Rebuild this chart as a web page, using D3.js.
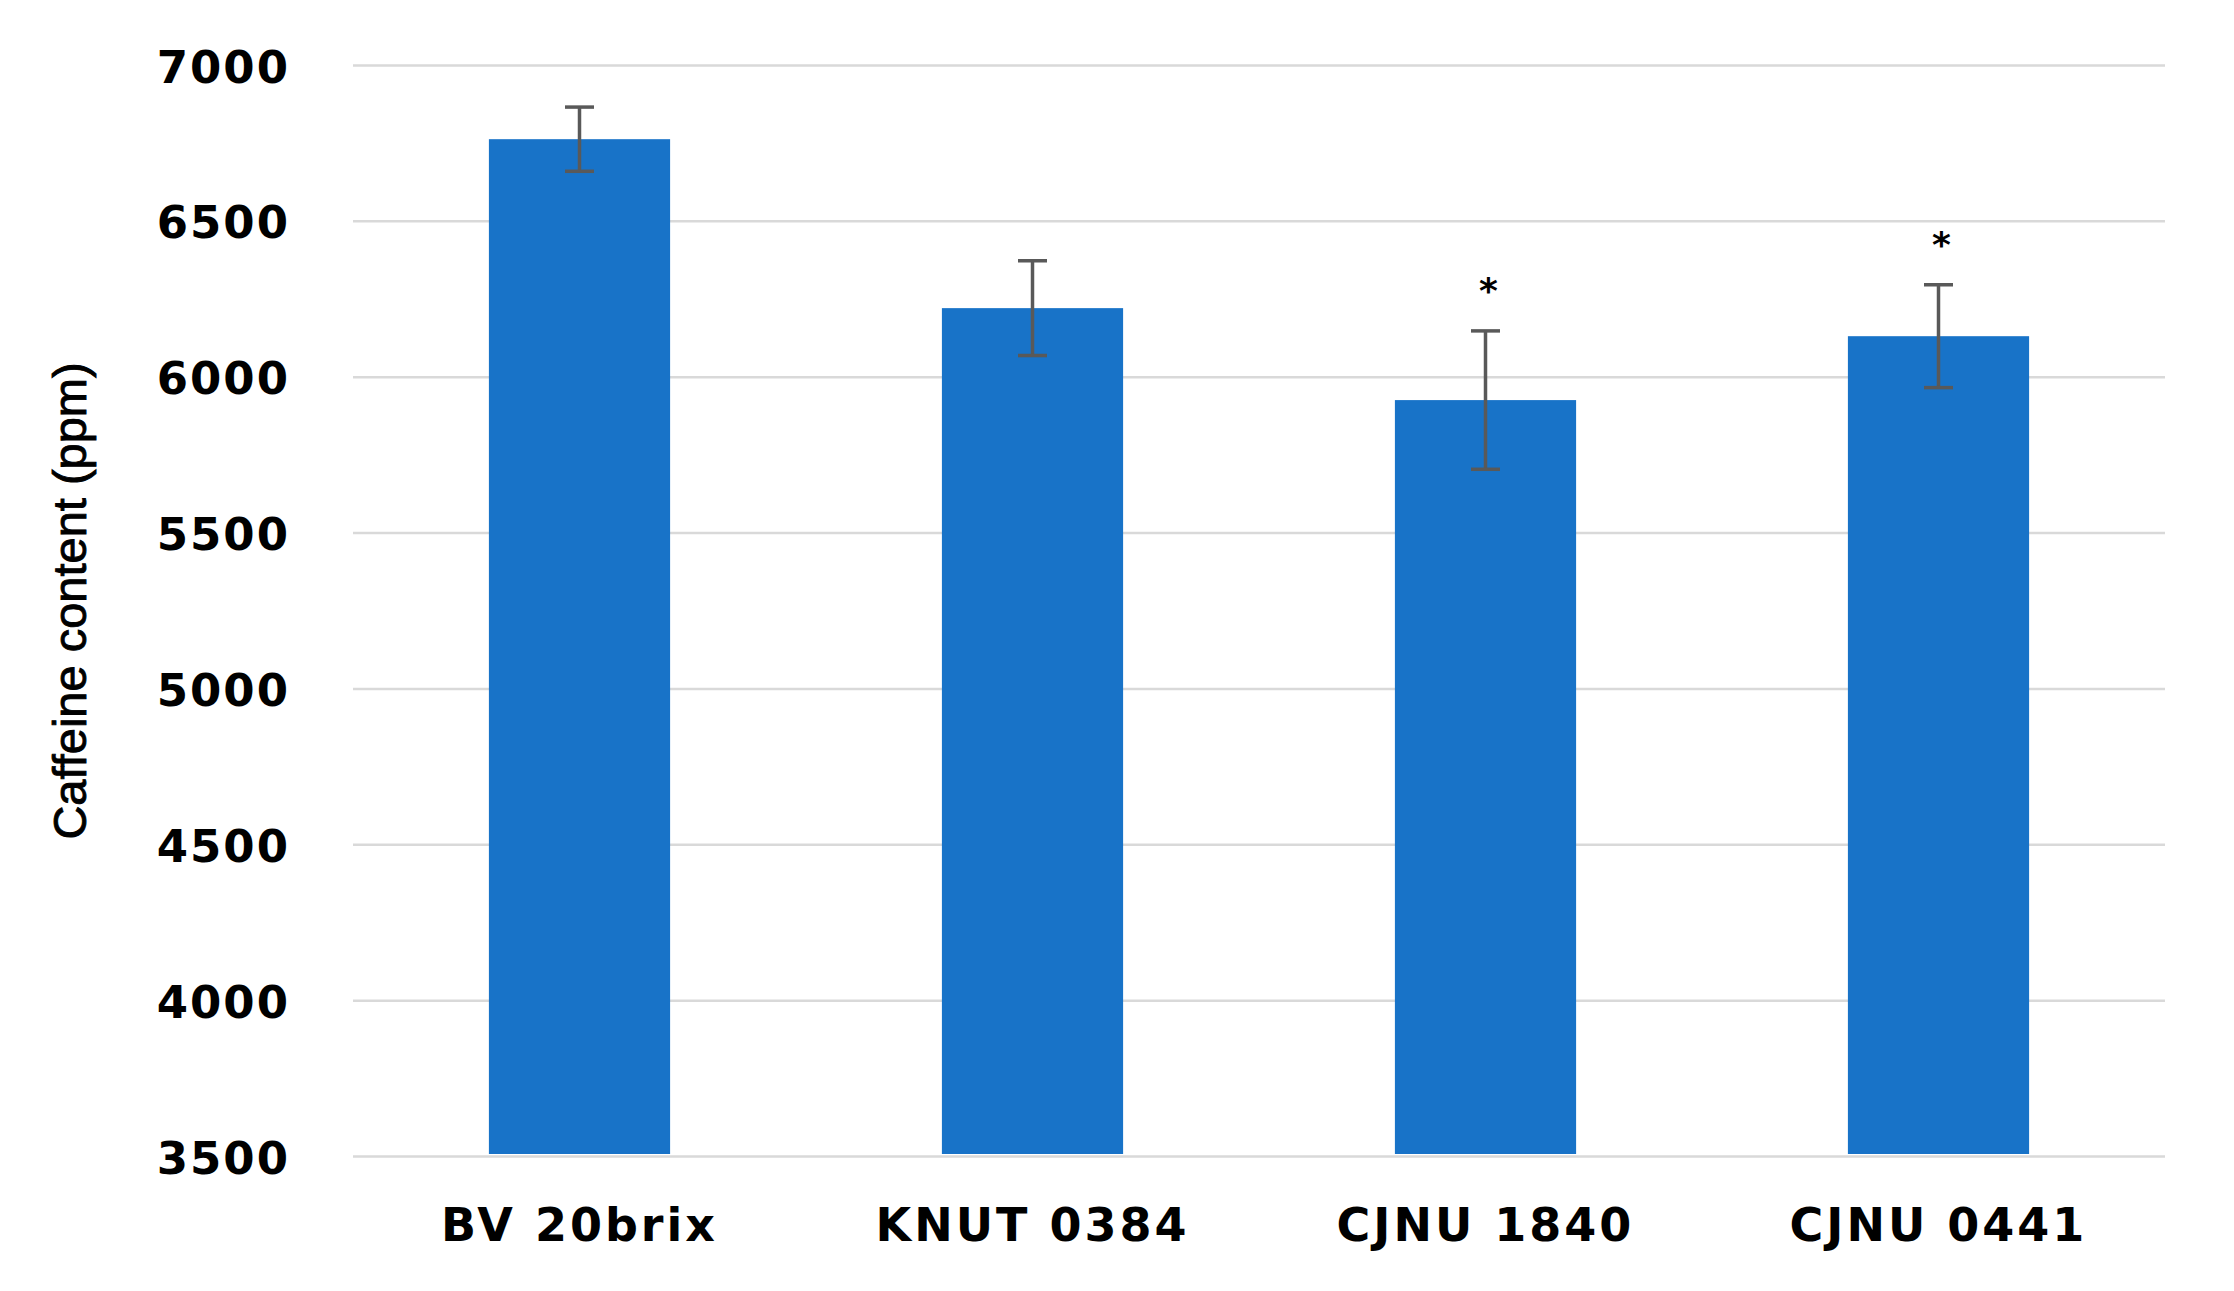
<!DOCTYPE html>
<html>
<head>
<meta charset="utf-8">
<script src="https://cdn.jsdelivr.net/npm/d3@7"></script>
<style>
  html, body { margin: 0; padding: 0; background: #ffffff; }
  svg { display: block; }
</style>
</head>
<body>
<script>
// ---- data ----
const categories = ["BV 20brix", "KNUT 0384", "CJNU 1840", "CJNU 0441"];
const caffeine = [6762, 6220, 5925, 6130];
const errors = [103, 152, 222, 165];
const significance = ["", "", "*", "*"];
const yTicks = [3500, 4000, 4500, 5000, 5500, 6000, 6500, 7000];
const yLabel = "Caffeine content (ppm)";

// ---- layout ----
const W = 2234, H = 1291;
const margin = { left: 353, right: W - 2165, top: 65, bottom: H - 1156 };
const pw = W - margin.left - margin.right;
const ph = H - margin.top - margin.bottom;

const svg = d3.select("body").append("svg").attr("width", W).attr("height", H);
const g = svg.append("g").attr("transform", `translate(${margin.left},${margin.top})`);

const x = d3.scaleBand().domain(categories).range([0, pw]).paddingInner(0.6).paddingOuter(0.3);
const y = d3.scaleLinear().domain([3500, 7000]).range([ph, 0]);

// y axis with gridlines
const yAxis = g.append("g")
  .call(d3.axisLeft(y).tickValues(yTicks).tickSizeInner(-pw).tickSizeOuter(0).tickFormat(d3.format("d")));
yAxis.select(".domain").remove();
yAxis.selectAll(".tick line").attr("stroke", "#d9d9d9").attr("stroke-width", 2.5);
yAxis.selectAll(".tick text")
  .attr("x", -63)
  .attr("dy", 0)
  .attr("y", 17)
  .attr("text-anchor", "end")
  .style("font-family", "'DejaVu Sans', sans-serif")
  .style("font-weight", "bold")
  .style("font-size", "45px")
  .style("letter-spacing", "2px")
  .attr("fill", "#000");

// bars
g.selectAll("rect.bar").data(categories).join("rect")
  .attr("class", "bar")
  .attr("x", d => x(d))
  .attr("width", x.bandwidth())
  .attr("y", (d, i) => y(caffeine[i]))
  .attr("height", (d, i) => y(3500) - y(caffeine[i]) - 2)
  .attr("fill", "#1873c8");

// error bars
const capHalf = 14.5;
const eb = g.selectAll("g.err").data(categories).join("g").attr("class", "err")
  .attr("stroke", "#595959").attr("stroke-width", 3.5);
eb.append("line")
  .attr("x1", d => x(d) + x.bandwidth() / 2).attr("x2", d => x(d) + x.bandwidth() / 2)
  .attr("y1", (d, i) => y(caffeine[i] + errors[i])).attr("y2", (d, i) => y(caffeine[i] - errors[i]));
eb.append("line")
  .attr("x1", d => x(d) + x.bandwidth() / 2 - capHalf).attr("x2", d => x(d) + x.bandwidth() / 2 + capHalf)
  .attr("y1", (d, i) => y(caffeine[i] + errors[i])).attr("y2", (d, i) => y(caffeine[i] + errors[i]));
eb.append("line")
  .attr("x1", d => x(d) + x.bandwidth() / 2 - capHalf).attr("x2", d => x(d) + x.bandwidth() / 2 + capHalf)
  .attr("y1", (d, i) => y(caffeine[i] - errors[i])).attr("y2", (d, i) => y(caffeine[i] - errors[i]));

// significance stars
g.selectAll("text.star").data(categories).join("text")
  .attr("class", "star")
  .attr("x", d => x(d) + x.bandwidth() / 2 + 3)
  .attr("y", (d, i) => y(caffeine[i] + errors[i]) - 28)
  .attr("text-anchor", "middle")
  .style("font-family", "'DejaVu Sans', sans-serif")
  .style("font-weight", "bold")
  .style("font-size", "36px")
  .attr("fill", "#000")
  .text((d, i) => significance[i]);

// x axis labels
const xAxis = g.append("g").attr("transform", `translate(0,${ph})`)
  .call(d3.axisBottom(x).tickSize(0));
xAxis.select(".domain").remove();
xAxis.selectAll(".tick text")
  .attr("y", 1241 - 1156)
  .attr("dy", 0)
  .style("font-family", "'DejaVu Sans', sans-serif")
  .style("font-weight", "bold")
  .style("font-size", "46px")
  .style("letter-spacing", "3px")
  .attr("fill", "#000");

// y axis title
svg.append("text")
  .attr("transform", "translate(86,601) rotate(-90)")
  .attr("text-anchor", "middle")
  .style("font-family", "'Liberation Sans', Arial, sans-serif")
  .style("font-size", "47px")
  .attr("fill", "#000")
  .attr("stroke", "#000")
  .attr("stroke-width", 0.9)
  .text(yLabel);
</script>
</body>
</html>
